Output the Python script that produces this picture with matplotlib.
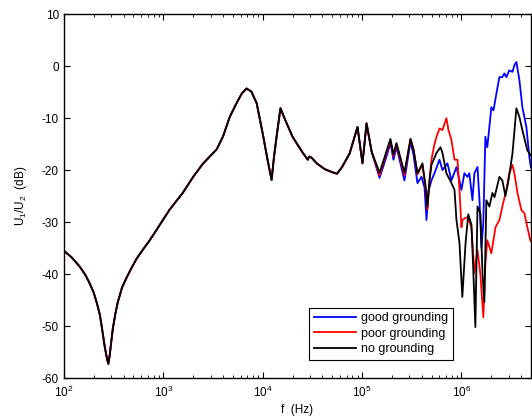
import numpy as np
import matplotlib
matplotlib.use("Agg")
import matplotlib.pyplot as plt
from matplotlib.ticker import LogLocator, MultipleLocator

# shared low-frequency part (Hz, dB)
f_common = [100, 120, 145, 165, 182, 200, 215, 230, 241, 258, 270, 280, 290,
            300, 311, 330, 349, 385, 430, 480, 541, 630, 731, 850, 1000, 1160,
            1570, 2000, 2500, 3000, 3450, 4000, 4660, 5500, 6200, 6900, 7700,
            8700, 10000, 11200, 12300, 13000, 13800, 15100, 17000, 20000,
            25000, 28400, 29500, 31000, 35000, 42000, 50000, 56000, 63000,
            75000, 90000, 101000, 111000, 125000]
db_common = [-35.5, -36.8, -38.6, -40.2, -41.8, -43.6, -45.6, -47.8, -50.2,
             -54.0, -56.0, -57.3, -55.5, -53.0, -50.5, -47.6, -45.4, -42.6,
             -40.6, -38.8, -37.0, -35.2, -33.5, -31.6, -29.5, -27.6, -24.4,
             -21.3, -18.8, -17.2, -16.0, -13.5, -9.8, -7.0, -5.2, -4.3, -4.9,
             -7.1, -12.9, -18.0, -21.9, -17.5, -13.6, -8.1, -10.5, -13.6,
             -16.5, -18.0, -17.4, -17.6, -18.7, -19.8, -20.4, -20.7, -19.4,
             -16.8, -11.7, -18.7, -11.0, -16.5]

f_good = [1.50e5, 1.72e5, 1.93e5, 2.07e5, 2.22e5, 2.67e5, 3.07e5, 3.29e5,
          3.61e5, 3.96e5, 4.25e5, 4.45e5, 4.66e5, 4.99e5, 5.35e5, 6.01e5,
          6.44e5, 7.23e5, 7.93e5, 8.91e5, 9.55e5, 1.00e6, 1.07e6, 1.15e6,
          1.20e6, 1.29e6, 1.35e6, 1.45e6, 1.52e6, 1.59e6, 1.66e6, 1.74e6,
          1.82e6, 2.00e6, 2.10e6, 2.25e6, 2.41e6, 2.58e6, 2.70e6, 2.83e6,
          3.03e6, 3.26e6, 3.41e6, 3.57e6, 3.83e6, 4.10e6, 4.50e6, 4.82e6,
          5.0e6]
db_good = [-21.5, -18.0, -14.8, -18.0, -15.5, -22.0, -14.5, -17.0, -22.5,
           -21.3, -23.3, -29.6, -24.0, -22.0, -20.6, -18.0, -20.0, -18.7,
           -22.0, -19.4, -22.0, -23.8, -20.6, -21.3, -20.6, -25.8, -20.6,
           -19.4, -26.0, -35.0, -30.0, -13.6, -15.6, -7.9, -8.5, -5.2, -2.1,
           -2.1, -1.4, -2.1, -0.8, -1.1, 0.2, 0.8, -2.7, -7.9, -11.7, -17.5,
           -19.5]

f_poor = [1.50e5, 1.72e5, 1.93e5, 2.07e5, 2.22e5, 2.67e5, 3.07e5, 3.29e5,
          3.61e5, 4.05e5, 4.35e5, 4.55e5, 4.77e5, 4.99e5, 5.35e5, 5.61e5,
          6.01e5, 6.44e5, 7.06e5, 7.40e5, 7.93e5, 8.51e5, 9.12e5, 9.55e5,
          1.00e6, 1.02e6, 1.15e6, 1.26e6, 1.35e6, 1.45e6, 1.55e6, 1.66e6,
          1.74e6, 1.82e6, 2.00e6, 2.20e6, 2.41e6, 2.58e6, 2.83e6, 3.03e6,
          3.26e6, 3.41e6, 3.66e6, 4.01e6, 4.30e6, 4.60e6, 4.93e6, 5.0e6]
db_poor = [-21.0, -17.3, -14.3, -17.3, -15.0, -21.0, -14.0, -16.0, -20.8,
           -19.0, -23.5, -27.5, -22.0, -18.0, -15.0, -13.6, -12.0, -12.3,
           -10.0, -12.3, -14.2, -18.0, -18.0, -23.8, -31.0, -29.6, -29.0,
           -31.0, -39.8, -35.4, -40.0, -48.3, -38.0, -33.5, -36.0, -31.0,
           -29.6, -27.0, -23.8, -20.6, -19.0, -20.6, -24.4, -27.7, -28.3,
           -31.0, -33.5, -33.7]

f_none = [1.50e5, 1.72e5, 1.93e5, 2.07e5, 2.22e5, 2.67e5, 3.07e5, 3.29e5,
          3.61e5, 4.05e5, 4.35e5, 4.55e5, 4.77e5, 4.99e5, 5.61e5, 6.15e5,
          6.44e5, 7.06e5, 7.93e5, 8.51e5, 8.91e5, 9.55e5, 1.02e6, 1.10e6,
          1.17e6, 1.26e6, 1.32e6, 1.38e6, 1.45e6, 1.55e6, 1.63e6, 1.70e6,
          1.78e6, 1.91e6, 2.05e6, 2.15e6, 2.41e6, 2.58e6, 2.77e6, 2.97e6,
          3.26e6, 3.57e6, 3.83e6, 4.10e6, 4.60e6, 4.93e6, 5.0e6]
db_none = [-20.5, -17.0, -14.0, -17.0, -14.8, -20.5, -14.0, -16.0, -20.6,
           -18.7, -23.0, -27.0, -22.0, -19.0, -16.7, -15.6, -16.7, -20.6,
           -22.5, -23.8, -29.6, -34.0, -44.4, -34.0, -28.5, -30.5, -40.0,
           -50.2, -27.0, -28.3, -40.0, -45.4, -25.8, -27.0, -24.4, -25.2,
           -21.3, -22.0, -25.0, -22.0, -16.8, -8.1, -9.8, -12.3, -16.2,
           -17.0, -17.2]

plt.rcParams['font.family'] = ['Liberation Sans', 'DejaVu Sans']
plt.rcParams['font.size'] = 8.5
plt.rcParams['axes.unicode_minus'] = False
plt.rcParams['mathtext.fontset'] = 'custom'
plt.rcParams['mathtext.rm'] = 'Liberation Sans'
plt.rcParams['mathtext.it'] = 'Liberation Sans'

fig = plt.figure(figsize=(5.32, 4.17), dpi=100)
ax = fig.add_axes([0.120, 0.0935, 0.878, 0.8725])

series = [(f_good, db_good, 'b', 'good grounding'),
          (f_poor, db_poor, 'r', 'poor grounding'),
          (f_none, db_none, 'k', 'no grounding')]
for f_tail, db_tail, c, lab in series:
    ax.plot(f_common + f_tail, db_common + db_tail, color=c, lw=1.3, label=lab)

ax.set_xscale('log')
ax.set_xlim(100, 5e6)
ax.set_ylim(-60, 10)
ax.yaxis.set_major_locator(MultipleLocator(10))
ax.xaxis.set_major_locator(LogLocator(base=10, numticks=10))
ax.xaxis.set_minor_locator(LogLocator(base=10, subs=np.arange(2, 10), numticks=20))
ax.tick_params(which='both', direction='in', top=True, right=True, colors='k')
ax.tick_params(which='major', length=4, width=0.8)
ax.tick_params(which='minor', length=2, width=0.6)
ax.tick_params(axis='x', pad=5)
for s in ax.spines.values():
    s.set_linewidth(1.0)

ax.set_xlabel('f  (Hz)', labelpad=3)
ax.set_ylabel('U$_1$/U$_2$  (dB)', labelpad=9)

leg = ax.legend(loc='lower right', bbox_to_anchor=(0.846, 0.033), fancybox=False,
                framealpha=1, edgecolor='k', handlelength=3.4, borderpad=0.35,
                labelspacing=0.3, handletextpad=0.4, fontsize=9)
leg.get_frame().set_linewidth(0.8)

fig.savefig('out.png', dpi=100)
